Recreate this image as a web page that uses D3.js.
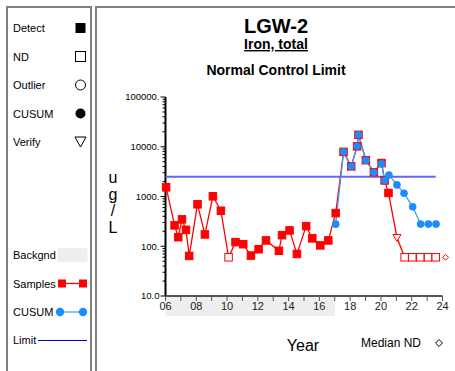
<!DOCTYPE html>
<html>
<head>
<meta charset="utf-8">
<script src="https://cdn.jsdelivr.net/npm/d3@7"></script>
<style>
  body { margin: 0; background: #fff; }
  svg text { font-family: Arial, "Liberation Sans", sans-serif; }
</style>
</head>
<body>
<div id="chart"></div>
<script>
// sample data (year = 20xx as decimal)
const sampleYears = [6.04, 6.59, 6.83, 7.07, 7.33, 7.54, 8.08, 8.56, 9.08, 9.60, 10.10, 10.55, 11.05, 11.55, 12.05,
    12.53, 13.37, 13.57, 14.06, 14.54, 15.14, 15.54, 16.06, 16.58, 17.06, 17.57, 18.07, 18.45, 18.54, 19.02,
    19.54, 20.04, 20.24, 20.49, 21.04, 21.54, 22.04, 22.56, 23.06, 23.56];
const sampleValues = [1530, 263, 152, 347, 214, 64, 697, 173, 1010, 517, 60, 121, 110, 65, 87,
    131, 81, 167, 208, 70, 254, 144, 104, 131, 464, 7900, 4030, 10200, 17400, 5370,
    3080, 4700, 2100, 1180, 150, 60, 60, 60, 60, 60];
// D = detect, N = non-detect, V = verify
const sampleFlags = ["D", "D", "D", "D", "D", "D", "D", "D", "D", "D", "N", "D", "D", "D", "D",
    "D", "D", "D", "D", "D", "D", "D", "D", "D", "D", "D", "D", "D", "D", "D",
    "D", "D", "D", "D", "V", "N", "N", "N", "N", "N"];

const cusumYears = [17.06, 17.57, 18.07, 18.45, 18.54, 19.02, 19.54, 20.04, 20.24, 20.52, 21.04, 21.50, 22.06, 22.58, 23.08, 23.58];
const cusumValues = [278, 7900, 4030, 10200, 17400, 5370, 3080, 4520, 2100, 2710, 1710, 1160, 622, 279, 279, 279];

const limitValue = 2500;
const medianND = 60;
const medianNDYear = 24.2;
const backgroundPeriod = [6, 17];

const yTickValues = [10, 100, 1000, 10000, 100000];
const yTickLabels = ["10.0", "100.", "1000.", "10000.", "100000."];
const xTickLabels = ["06", "08", "10", "12", "14", "16", "18", "20", "22", "24"];

const legendItems = ["Detect", "ND", "Outlier", "CUSUM", "Verify"];

const width = 455, height = 371;
const red = "#ff0000", blue = "#1a8cff", blueLine = "#3f9cf2", limitColor = "#6464ff";

const svg = d3.select("#chart").append("svg")
    .attr("width", width)
    .attr("height", height);

// panels
svg.append("rect").attr("x", 7).attr("y", 7).attr("width", 84).attr("height", 380)
    .attr("fill", "#fff").attr("stroke", "#7f7f7f").attr("stroke-width", 2);
svg.append("rect").attr("x", 96).attr("y", 7).attr("width", 380).attr("height", 380)
    .attr("fill", "#fff").attr("stroke", "#7f7f7f").attr("stroke-width", 2);

// titles
const cx = 276;
svg.append("text").attr("x", cx).attr("y", 33).attr("text-anchor", "middle")
    .style("font-size", "20px").style("font-weight", "bold").text("LGW-2");
svg.append("text").attr("x", cx).attr("y", 49).attr("text-anchor", "middle")
    .style("font-size", "14px").style("font-weight", "bold")
    .style("text-decoration", "underline").text("Iron, total");
svg.append("text").attr("x", cx).attr("y", 75).attr("text-anchor", "middle")
    .style("font-size", "14px").style("font-weight", "bold").text("Normal Control Limit");

// scales
const x = d3.scaleLinear().domain([6, 24]).range([165.5, 442.5]);
const y = d3.scaleLog().domain([10, 100000]).range([296, 97]);

// background band under the axis
svg.append("rect")
    .attr("x", x(backgroundPeriod[0]))
    .attr("y", y(10))
    .attr("width", x(backgroundPeriod[1]) - x(backgroundPeriod[0]))
    .attr("height", 20)
    .attr("fill", "#eeeeee");

// y axis
const minorTicks = [];
for (let d = 10; d < 100000; d *= 10) {
    for (let k = 2; k <= 9; k++) minorTicks.push(d * k);
}
const yAxis = svg.append("g").attr("transform", `translate(${x(6)},0)`);
yAxis.append("line").attr("y1", y(10)).attr("y2", y(100000))
    .attr("stroke", "#000").attr("stroke-width", 2);
yAxis.selectAll(".minor").data(minorTicks).enter().append("line")
    .attr("x1", -3).attr("x2", 0)
    .attr("y1", d => y(d)).attr("y2", d => y(d))
    .attr("stroke", "#000").attr("stroke-width", 1);
yAxis.selectAll(".major").data(yTickValues).enter().append("line")
    .attr("x1", -5).attr("x2", 0)
    .attr("y1", d => y(d)).attr("y2", d => y(d))
    .attr("stroke", "#000").attr("stroke-width", 1);
yAxis.selectAll(".lbl").data(yTickValues).enter().append("text")
    .attr("x", -6).attr("y", d => y(d)).attr("dy", "0.35em")
    .attr("text-anchor", "end")
    .style("font-size", "9.5px")
    .text((d, i) => yTickLabels[i]);

// x axis
const xAxis = svg.append("g").attr("transform", `translate(0,${y(10)})`);
xAxis.append("line").attr("x1", x(6)).attr("x2", x(24))
    .attr("stroke", "#555").attr("stroke-width", 2);
xAxis.selectAll(".tick").data(d3.range(6, 25)).enter().append("line")
    .attr("x1", d => x(d)).attr("x2", d => x(d))
    .attr("y1", 0).attr("y2", 5)
    .attr("stroke", "#555").attr("stroke-width", 1);
xAxis.selectAll(".lbl").data(xTickLabels).enter().append("text")
    .attr("x", d => x(+d)).attr("y", 14)
    .attr("text-anchor", "middle")
    .style("font-size", "11px").style("fill", "#222")
    .text(d => d);

// axis titles
["u", "g", "/", "L"].forEach((c, i) => {
    svg.append("text").attr("x", 113).attr("y", 183 + i * 16.5)
        .attr("text-anchor", "middle").style("font-size", "16px").text(c);
});
svg.append("text").attr("x", 303).attr("y", 351).attr("text-anchor", "middle")
    .style("font-size", "16px").text("Year");
svg.append("text").attr("x", 391).attr("y", 347).attr("text-anchor", "middle")
    .style("font-size", "12px").text("Median ND");
svg.append("path")
    .attr("d", d3.symbol().type(d3.symbolDiamond2).size(30)())
    .attr("transform", "translate(439,343)")
    .attr("fill", "none").attr("stroke", "#000").attr("stroke-width", 1);

// limit line
svg.append("line")
    .attr("x1", x(6)).attr("x2", x(d3.max(sampleYears)))
    .attr("y1", y(limitValue)).attr("y2", y(limitValue))
    .attr("stroke", limitColor).attr("stroke-width", 2);

// samples
const samples = sampleYears.map((yr, i) => ({ yr, v: sampleValues[i], f: sampleFlags[i] }));
const line = d3.line().x(d => x(d.yr)).y(d => y(d.v));
svg.append("path").datum(samples).attr("d", line)
    .attr("fill", "none").attr("stroke", red).attr("stroke-width", 1.3);

// cusum line
const cusum = cusumYears.map((yr, i) => ({ yr, v: cusumValues[i] }));
svg.append("path").datum(cusum).attr("d", line)
    .attr("fill", "none").attr("stroke", blueLine).attr("stroke-width", 1.3);

const sq = 7.5;
svg.selectAll(".sample").data(samples.filter(d => d.f !== "V")).enter().append("rect")
    .attr("x", d => x(d.yr) - sq / 2).attr("y", d => y(d.v) - sq / 2)
    .attr("width", sq).attr("height", sq)
    .attr("fill", d => d.f === "N" ? "#fff" : red)
    .attr("stroke", red).attr("stroke-width", 1);
svg.selectAll(".verify").data(samples.filter(d => d.f === "V")).enter().append("path")
    .attr("d", d => {
        const cx0 = x(d.yr), cy0 = y(d.v);
        return `M${cx0 - 4},${cy0 - 3}L${cx0 + 4},${cy0 - 3}L${cx0},${cy0 + 4}Z`;
    })
    .attr("fill", "#fff").attr("stroke", red).attr("stroke-width", 1);

// cusum points on top
svg.selectAll(".cusum").data(cusum).enter().append("circle")
    .attr("cx", d => x(d.yr)).attr("cy", d => y(d.v)).attr("r", 3.8)
    .attr("fill", blue);

// median ND marker
svg.append("path")
    .attr("d", d3.symbol().type(d3.symbolDiamond2).size(22)())
    .attr("transform", `translate(${x(medianNDYear)},${y(medianND)})`)
    .attr("fill", "#fff").attr("stroke", red).attr("stroke-width", 1);

// legend
const lg = svg.append("g");
legendItems.forEach((t, i) => {
    lg.append("text").attr("x", 13).attr("y", 32 + i * 28.5)
        .style("font-size", "11px").text(t);
});
const mx = 80.5;
lg.append("rect").attr("x", mx - 5).attr("y", 28 - 5).attr("width", 10).attr("height", 10).attr("fill", "#000");
lg.append("rect").attr("x", mx - 5).attr("y", 56.5 - 5).attr("width", 10).attr("height", 10)
    .attr("fill", "none").attr("stroke", "#000").attr("stroke-width", 1);
lg.append("circle").attr("cx", mx).attr("cy", 85).attr("r", 5)
    .attr("fill", "none").attr("stroke", "#000").attr("stroke-width", 1);
lg.append("circle").attr("cx", mx).attr("cy", 113.5).attr("r", 5).attr("fill", "#000");
lg.append("path").attr("d", `M${mx - 5.5},${137}L${mx + 5.5},${137}L${mx},${147}Z`)
    .attr("fill", "none").attr("stroke", "#000").attr("stroke-width", 1);

const lower = [["Backgnd", 255], ["Samples", 283.5], ["CUSUM", 312], ["Limit", 340]];
lower.forEach(([t, yy]) => {
    lg.append("text").attr("x", 13).attr("y", yy + 4).style("font-size", "11px").text(t);
});
lg.append("rect").attr("x", 57.5).attr("y", 248).attr("width", 30).attr("height", 14).attr("fill", "#eeeeee");
lg.append("line").attr("x1", 62).attr("x2", 83).attr("y1", 283.5).attr("y2", 283.5)
    .attr("stroke", red).attr("stroke-width", 1.3);
[62, 83].forEach(px => lg.append("rect").attr("x", px - 4).attr("y", 283.5 - 4)
    .attr("width", 8).attr("height", 8).attr("fill", red));
lg.append("line").attr("x1", 60).attr("x2", 83).attr("y1", 312).attr("y2", 312)
    .attr("stroke", "#66b0f5").attr("stroke-width", 1.5);
[60, 83].forEach(px => lg.append("circle").attr("cx", px).attr("cy", 312).attr("r", 4.2).attr("fill", blue));
lg.append("line").attr("x1", 38).attr("x2", 87).attr("y1", 340.5).attr("y2", 340.5)
    .attr("stroke", "#0000cc").attr("stroke-width", 1);
</script>
</body>
</html>
